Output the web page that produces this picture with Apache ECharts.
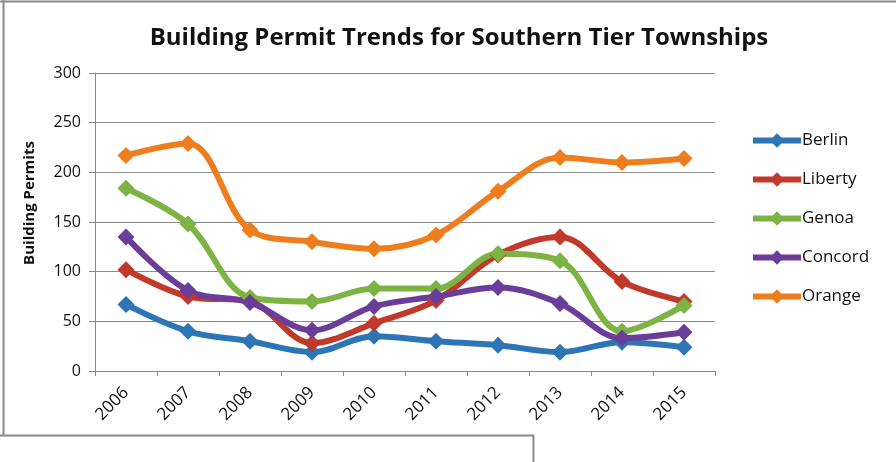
<!DOCTYPE html>
<html>
<head>
<meta charset="utf-8">
<script src="https://cdn.jsdelivr.net/npm/echarts@6/dist/echarts.min.js"></script>
<style>
  html, body { margin: 0; padding: 0; background: #ffffff; }
  #chart { width: 896px; height: 462px; }
</style>
</head>
<body>
<div id="chart"></div>
<script>
// Building permits issued per township, 2006–2015
const years = ['2006', '2007', '2008', '2009', '2010', '2011', '2012', '2013', '2014', '2015'];
const berlin  = [67, 40, 30, 19, 35, 30, 26, 19, 29, 24];
const liberty = [102, 75, 70, 28, 48, 71, 117, 135, 90, 70];
const genoa   = [184, 148, 74, 70, 83, 83, 118, 111, 40, 66];
const concord = [135, 81, 69, 41, 65, 75, 84, 68, 33, 39];
const orange  = [217, 229, 142, 130, 123, 137, 181, 215, 210, 214];

const names  = ['Berlin', 'Liberty', 'Genoa', 'Concord', 'Orange'];
const values = [berlin, liberty, genoa, concord, orange];
const colors = ['#2e75b6', '#c0392b', '#7cb342', '#6a3d9a', '#ee7d1e'];

const textFont = 'Open Sans';

const chart = echarts.init(document.getElementById('chart'));
chart.setOption({
  backgroundColor: '#ffffff',
  animation: false,
  title: {
    text: 'Building Permit Trends for Southern Tier Townships',
    left: 454, top: 21, textAlign: 'center',
    textStyle: { fontFamily: textFont, fontWeight: 'bold', fontSize: 24, color: '#111' }
  },
  legend: {
    orient: 'vertical', left: 745, top: 127, itemGap: 22,
    itemWidth: 48, itemHeight: 18,
    lineStyle: { width: 6 },
    textStyle: { fontFamily: textFont, fontSize: 17, color: '#111', padding: [0, 0, 0, -4] },
    data: names
  },
  grid: { left: 95, right: 181, top: 73, bottom: 91 },
  xAxis: {
    type: 'category', data: years, boundaryGap: true,
    axisLine: { lineStyle: { color: '#888', width: 1 } },
    axisTick: { show: true, length: 5, lineStyle: { color: '#888' } },
    axisLabel: { rotate: 45, fontFamily: textFont, fontSize: 17, color: '#111', margin: 19 }
  },
  yAxis: {
    type: 'value', min: 0, max: 300, interval: 50,
    name: 'Building Permits', nameLocation: 'middle', nameGap: 58, nameRotate: 90,
    nameTextStyle: { fontFamily: textFont, fontWeight: 'bold', fontSize: 15, color: '#111', padding: [0, 0, 0, 38] },
    axisLine: { show: true, lineStyle: { color: '#888' } },
    axisTick: { show: true, length: 6, lineStyle: { color: '#888' } },
    axisLabel: { fontFamily: textFont, fontSize: 16, color: '#111', margin: 14 },
    splitLine: { lineStyle: { color: '#8c8c8c', width: 1 } }
  },
  series: names.map((n, i) => ({
    name: n, type: 'line', data: values[i], smooth: 0.35,
    symbol: 'diamond', symbolSize: 17,
    lineStyle: { width: 6, color: colors[i] },
    itemStyle: { color: colors[i] }
  })),
  graphic: [
    // outer frame lines
    { type: 'line', shape: { x1: 0, y1: 1.5, x2: 896, y2: 1.5 }, style: { stroke: '#8a8a8a', lineWidth: 2 } },
    { type: 'line', shape: { x1: 3.5, y1: 0, x2: 3.5, y2: 435 }, style: { stroke: '#8a8a8a', lineWidth: 2 } },
    // lower inset box
    { type: 'line', shape: { x1: 0, y1: 435.5, x2: 534, y2: 435.5 }, style: { stroke: '#8a8a8a', lineWidth: 2 } },
    { type: 'line', shape: { x1: 533.5, y1: 435, x2: 533.5, y2: 462 }, style: { stroke: '#8a8a8a', lineWidth: 2 } }
  ]
});
</script>
</body>
</html>
